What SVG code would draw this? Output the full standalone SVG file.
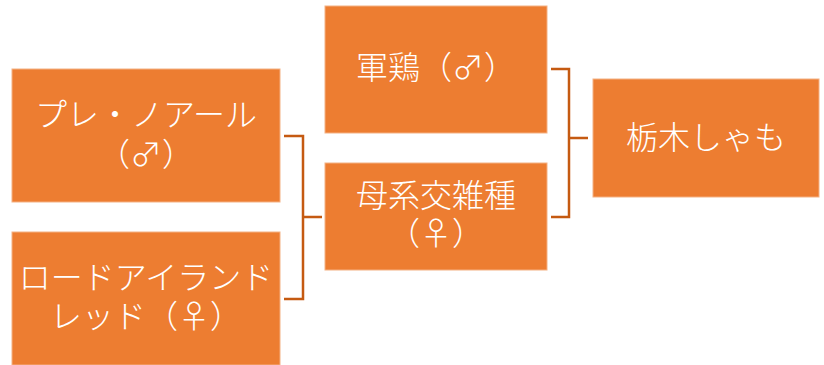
<svg xmlns="http://www.w3.org/2000/svg" width="824" height="365" viewBox="0 0 824 365">
<style>
.box{fill:#ED7D31;stroke:#F4B183;stroke-width:1}
.t{fill:#FFFFFF;font-family:"Noto Sans CJK JP","Noto Sans",sans-serif;font-size:32px;font-weight:300;text-anchor:middle}
.c{fill:none;stroke:#C55A11;stroke-width:2.5}
</style>
<rect width="824" height="365" fill="#FFFFFF"/>
<g id="connectors">
<path class="c" d="M284,136 H303 V299 H284 M303,217 H322"/>
<path class="c" d="M551,69 H569 V217 H551 M569,138 H588"/>
</g>
<g id="n-pure-noir">
<rect class="box" x="12" y="69" width="268" height="133"/>
<text class="t" x="146" y="126">プレ・ノアール<tspan x="146" dy="40">（♂）</tspan></text>
</g>
<g id="n-rir">
<rect class="box" x="12" y="232" width="268" height="133"/>
<text class="t" x="146" y="289">ロードアイランド<tspan x="146" dy="39">レッド（♀）</tspan></text>
</g>
<g id="n-shamo">
<rect class="box" x="325" y="6" width="222" height="127"/>
<text class="t" x="436" y="79">軍鶏（♂）</text>
</g>
<g id="n-hybrid">
<rect class="box" x="325" y="163" width="222" height="107"/>
<text class="t" x="436" y="207">母系交雑種<tspan x="436" dy="38">（♀）</tspan></text>
</g>
<g id="n-tochigi">
<rect class="box" x="593" y="79" width="226" height="118"/>
<text class="t" x="706" y="149">栃木しゃも</text>
</g>
</svg>
